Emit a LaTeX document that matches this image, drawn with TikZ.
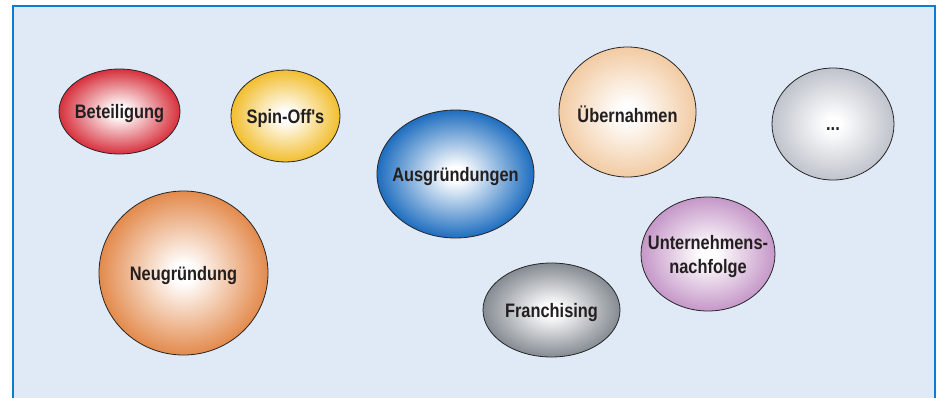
\documentclass[tikz,border=0pt]{standalone}
\usepackage{fontspec}
\newfontfamily\lblfont{Liberation Sans}[FakeStretch=0.84]
\usetikzlibrary{shapes.geometric}
\definecolor{bgfill}{HTML}{DFEAF6}
\definecolor{boxblue}{HTML}{0A7ED6}
\definecolor{txt}{HTML}{231F20}
\definecolor{cred}{HTML}{D7303C}
\definecolor{cyellow}{HTML}{F2BE2E}
\definecolor{cblue}{HTML}{1D6DBF}
\definecolor{cpeach}{HTML}{F2CBA3}
\definecolor{clgray}{HTML}{BFC3CB}
\definecolor{corange}{HTML}{E38A4C}
\definecolor{cgray}{HTML}{858B92}
\definecolor{cpurple}{HTML}{C597C8}
\colorlet{ballc}{white}
\pgfdeclareradialshading[ballc]{myball}{\pgfpoint{0bp}{0bp}}{color(0bp)=(white); color(3bp)=(white); color(25bp)=(ballc); color(50bp)=(ballc)}
\tikzset{
  ball/.style={ellipse, draw=black!85, line width=0.8pt, inner sep=0pt,
    /utils/exec={\colorlet{ballc}{#1}}, shading=myball},
  lbl/.style={inner sep=0pt, text=txt, font=\lblfont\bfseries\fontsize{19.5}{24}\selectfont, align=center, yshift=-2pt},
  boxline/.style={draw=boxblue, line width=2pt}
}
\begin{document}
\begin{tikzpicture}[x=1pt,y=-1pt]
\useasboundingbox (0,0) rectangle (940,397);
\begin{scope}
\clip (0,0) rectangle (940,397);
\fill[bgfill] (13,6) rectangle (935,410);
\draw[boxline] (13,410) -- (13,6) -- (935,6) -- (935,410);
\end{scope}
\node[ball=cred, minimum width=121pt, minimum height=85pt] (bet) at (119.5,111.5) {};
\node[ball=cyellow, minimum width=109pt, minimum height=92pt] (spin) at (285.5,116) {};
\node[ball=cblue, minimum width=157pt, minimum height=128pt] (aus) at (455.5,174) {};
\node[ball=cpeach, minimum width=137pt, minimum height=130pt] (ueb) at (627.5,112) {};
\node[ball=clgray, minimum width=122pt, minimum height=112pt] (dots) at (833,124) {};
\node[ball=corange, minimum width=169pt, minimum height=164pt] (neu) at (183.5,273) {};
\node[ball=cgray, minimum width=137pt, minimum height=94pt] (fra) at (551.5,310) {};
\node[ball=cpurple, minimum width=134pt, minimum height=114pt] (unt) at (708,254) {};
\node[lbl] (bet-t) at (bet) {Beteiligung};
\node[lbl] (spin-t) at (spin) {Spin-Off's};
\node[lbl] (aus-t) at (aus) {Ausgründungen};
\node[lbl] (ueb-t) at (ueb) {Übernahmen};
\node[lbl] (dots-t) at (dots) {\vphantom{Ag}...};
\node[lbl] (neu-t) at (neu) {Neugründung};
\node[lbl] (fra-t) at (fra) {Franchising};
\node[lbl] (unt-t) at (unt) {Unternehmens-\\nachfolge};
\end{tikzpicture}
\end{document}
